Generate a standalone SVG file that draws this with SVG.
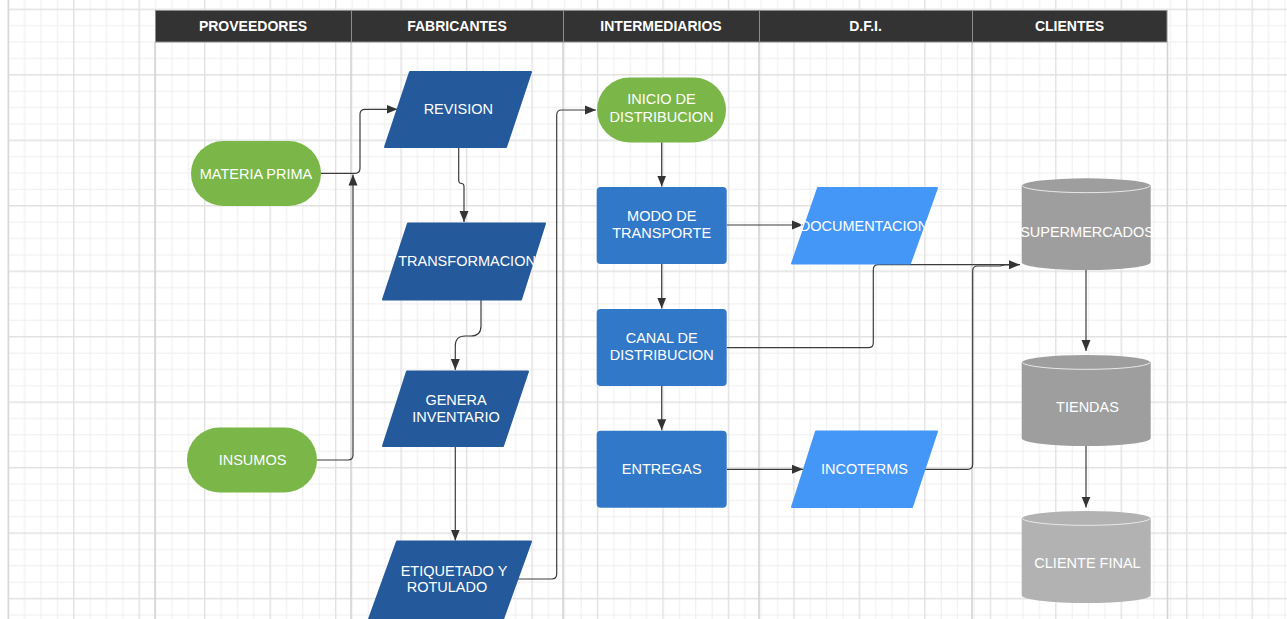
<svg xmlns="http://www.w3.org/2000/svg" width="1287" height="619" viewBox="0 0 1287 619">
<style>
text{font-family:"Liberation Sans",Arial,sans-serif;fill:#ffffff;text-anchor:middle}
.hd{font-size:14px;font-weight:bold}
.nt{font-size:14.5px}
.hcell{fill:#333333;stroke:#8c8c8c;stroke-width:1}
.lane{stroke:#d4d4d4;stroke-width:1.6;fill:none}
.green{fill:#7ab648}
.dblue{fill:#24599b;stroke:#24599b;stroke-width:2;stroke-linejoin:round}
.mblue{fill:#3278c8}
.lblue{fill:#4597f7;stroke:#4597f7;stroke-width:2;stroke-linejoin:round}
.cyl{fill:#9e9e9e}
.cyl2{fill:#b2b2b2}
.cap{fill:none;stroke:#e8e8e8;stroke-width:1}
.conn{fill:none;stroke:#3c3c3c;stroke-width:1.2;marker-end:url(#arr)}
.connn{fill:none;stroke:#3c3c3c;stroke-width:1.2}
</style>
<defs>
<pattern id="grid" patternUnits="userSpaceOnUse" x="7.6" y="8.6" width="65.47" height="65.47">
<path d="M17.07,0V65.47M33.44,0V65.47M49.8,0V65.47M0,17.07H65.47M0,33.44H65.47M0,49.8H65.47" stroke="#eeeeee" stroke-width="1" fill="none"/>
<path d="M0.7,0V65.47M0,0.7H65.47" stroke="#e1e1e1" stroke-width="1.4" fill="none"/>
</pattern>
<marker id="arr" markerUnits="userSpaceOnUse" markerWidth="11" markerHeight="10" refX="11" refY="5" orient="auto">
<path d="M0,0.5L11,5L0,9.5z" fill="#333333"/>
</marker>
</defs>
<rect x="0" y="0" width="1287" height="619" fill="#ffffff"/>
<rect x="8" y="0" width="1279" height="619" fill="url(#grid)"/>
<line x1="8.3" y1="0" x2="8.3" y2="619" stroke="#d8d8d8" stroke-width="1.5"/>

<g id="lanes">
<path class="lane" d="M155,42V619M351,42V619M563,42V619M759,42V619M972,42V619M1167.5,42V619"/>
</g>

<g id="header">
<rect class="hcell" x="155.5" y="10.5" width="196" height="31.5"/>
<rect class="hcell" x="351.5" y="10.5" width="212" height="31.5"/>
<rect class="hcell" x="563.5" y="10.5" width="196" height="31.5"/>
<rect class="hcell" x="759.5" y="10.5" width="213" height="31.5"/>
<rect class="hcell" x="972.5" y="10.5" width="194.5" height="31.5"/>
<text class="hd" x="253" y="31">PROVEEDORES</text>
<text class="hd" x="457" y="31">FABRICANTES</text>
<text class="hd" x="661" y="31">INTERMEDIARIOS</text>
<text class="hd" x="865.5" y="31">D.F.I.</text>
<text class="hd" x="1069.5" y="31">CLIENTES</text>
</g>

<g id="connectors">
<path class="conn" d="M321,173.3H355Q360,173.3 360,168.3V114.3Q360,109.3 365,109.3H397.5"/>
<path class="conn" d="M317,460H348Q353,460 353,455V174.5"/>
<path class="conn" d="M458.7,148V180Q458.7,183.5 461.5,183.5Q464,183.5 464,187V222"/>
<path class="conn" d="M481,300V326Q481,336 471,336H465Q455.3,336 455.3,346V370"/>
<path class="conn" d="M455.3,447V540.5"/>
<path class="conn" d="M517,579H551.7Q556.7,579 556.7,574V115Q556.7,110 561.7,110H596"/>
<path class="conn" d="M661.7,142.3V186.5"/>
<path class="conn" d="M727,225H803"/>
<path class="conn" d="M661.7,264V308.5"/>
<path class="conn" d="M727,347.7H868.3Q873.3,347.7 873.3,342.7V269.7Q873.3,264.7 878.3,264.7H1020"/>
<path class="conn" d="M661.7,386V430.2"/>
<path class="conn" d="M727,469.3H803"/>
<path class="connn" d="M925,469.3H967.7Q972.7,469.3 972.7,464.3V271Q972.7,266 977.7,266H1000Q1004,264.7 1010,264.7"/>
<path class="conn" d="M1086,270V351"/>
<path class="conn" d="M1086,446V507.5"/>
</g>

<g id="materia-prima">
<rect class="green" x="191" y="141" width="130" height="65" rx="32.5"/>
<text class="nt" x="256" y="179">MATERIA PRIMA</text>
</g>
<g id="insumos">
<rect class="green" x="187" y="427.5" width="130" height="65" rx="32.5"/>
<text class="nt" x="252.5" y="464.5">INSUMOS</text>
</g>

<g id="revision">
<polygon class="dblue" points="410,72 531,72 506,147 385,147"/>
<text class="nt" x="458.3" y="113.5">REVISION</text>
</g>
<g id="transformacion">
<polygon class="dblue" points="408,223.5 545,223.5 521,299.5 383,299.5"/>
<text class="nt" x="467" y="266">TRANSFORMACION</text>
</g>
<g id="genera-inventario">
<polygon class="dblue" points="407,371.5 528,371.5 503,446 383,446"/>
<text class="nt" x="456" y="405">GENERA</text>
<text class="nt" x="456" y="422.3">INVENTARIO</text>
</g>
<g id="etiquetado">
<polygon class="dblue" points="397,541.5 531,541.5 503,619 369,619"/>
<text class="nt" x="454" y="575.7">ETIQUETADO Y</text>
<text class="nt" x="447" y="592.3">ROTULADO</text>
</g>

<g id="inicio-distribucion">
<rect class="green" x="597" y="77.5" width="129" height="65" rx="32.5"/>
<text class="nt" x="661.5" y="104">INICIO DE</text>
<text class="nt" x="661.5" y="122">DISTRIBUCION</text>
</g>
<g id="modo-transporte">
<rect class="mblue" x="596.7" y="187" width="130" height="77" rx="4"/>
<text class="nt" x="661.7" y="221">MODO DE</text>
<text class="nt" x="661.7" y="238">TRANSPORTE</text>
</g>
<g id="canal-distribucion">
<rect class="mblue" x="596.7" y="309" width="130" height="77" rx="4"/>
<text class="nt" x="661.7" y="343.3">CANAL DE</text>
<text class="nt" x="661.7" y="360">DISTRIBUCION</text>
</g>
<g id="entregas">
<rect class="mblue" x="596.7" y="430.7" width="130" height="77" rx="4"/>
<text class="nt" x="661.7" y="474">ENTREGAS</text>
</g>

<g id="documentacion">
<polygon class="lblue" points="818,188 937,188 910,263.5 792,263.5"/>
<text class="nt" x="864" y="230.5">DOCUMENTACION</text>
</g>
<g id="incoterms">
<polygon class="lblue" points="816,431.5 937,431.5 912,507 792,507"/>
<text class="nt" x="864.5" y="474">INCOTERMS</text>
</g>

<g id="supermercados">
<path class="cyl" d="M1021.7,186A64.5,7.7 0 0 1 1150.7,186V262.3A64.5,7.7 0 0 1 1021.7,262.3Z"/>
<path class="cap" d="M1022.5,186A64,7.3 0 0 0 1150,186"/>
<text class="nt" x="1087" y="237">SUPERMERCADOS</text>
</g>
<g id="tiendas">
<path class="cyl" d="M1021.7,362.7A64.5,7.7 0 0 1 1150.7,362.7V438.3A64.5,7.7 0 0 1 1021.7,438.3Z"/>
<path class="cap" d="M1022.5,362.7A64,7.3 0 0 0 1150,362.7"/>
<text class="nt" x="1087.5" y="411.5">TIENDAS</text>
</g>
<g id="cliente-final">
<path class="cyl2" d="M1021.7,518.7A64.5,7.7 0 0 1 1150.7,518.7V595.3A64.5,7.7 0 0 1 1021.7,595.3Z"/>
<path class="cap" d="M1022.5,518.7A64,7.3 0 0 0 1150,518.7"/>
<text class="nt" x="1087.5" y="568">CLIENTE FINAL</text>
</g>
</svg>
